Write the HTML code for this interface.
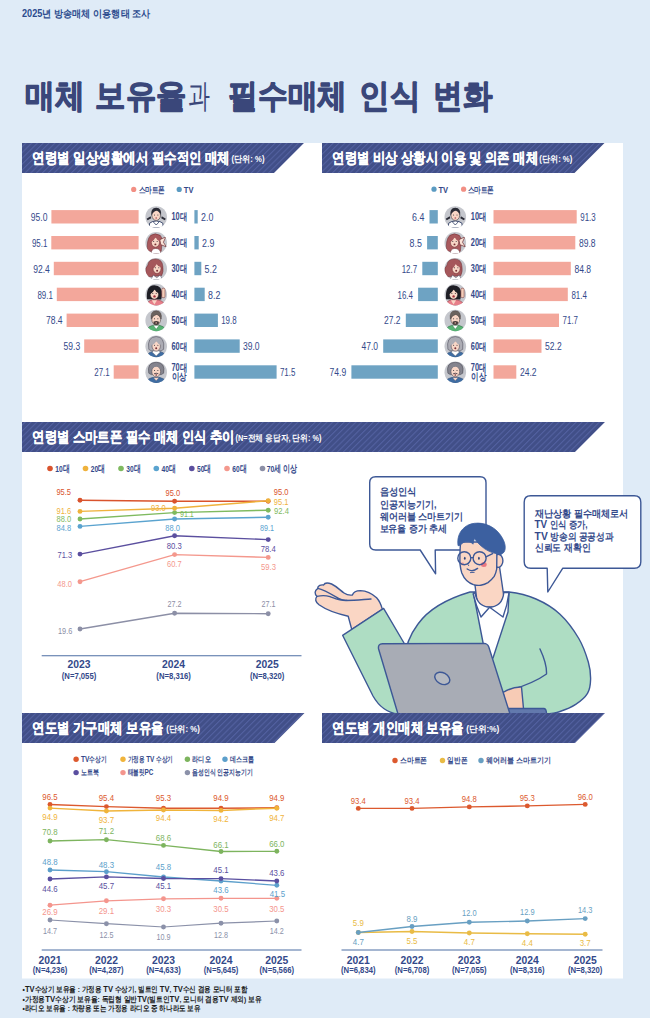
<!DOCTYPE html>
<html lang="ko">
<head>
<meta charset="utf-8">
<title>2025년 방송매체 이용행태 조사</title>
<style>
html,body{margin:0;padding:0;background:#dfebf7;}
body{width:650px;height:1018px;overflow:hidden;font-family:"Liberation Sans",sans-serif;}
svg{display:block;font-family:"Liberation Sans",sans-serif;}
svg text{white-space:pre;}
</style>
</head>
<body>
<svg width="650" height="1018" viewBox="0 0 650 1018">
<defs>
<pattern id="stripe" width="5.8" height="5.8" patternUnits="userSpaceOnUse" patternTransform="skewX(-45)">
<rect width="5.8" height="5.8" fill="#414f88"/>
<rect x="0" y="0" width="1.5" height="5.8" fill="#5361a0"/>
</pattern>
</defs>
<rect x="0" y="0" width="650" height="1018" fill="#dfebf7"/>
<rect x="22" y="143" width="601" height="835.5" fill="#ffffff"/>
<text x="22.0" y="17.1" font-size="10" fill="#2c4b8e" font-weight="bold" text-anchor="start" textLength="128.5" lengthAdjust="spacingAndGlyphs">2025년 방송매체 이용행태 조사</text>
<text x="25.2" y="106.9" font-size="33" fill="#3a477a" font-weight="900" text-anchor="start" textLength="59.5" lengthAdjust="spacingAndGlyphs" stroke="#3a477a" stroke-width="1.2" stroke-linejoin="round">매체</text>
<text x="95.4" y="106.9" font-size="33" fill="#3a477a" font-weight="900" text-anchor="start" textLength="91.0" lengthAdjust="spacingAndGlyphs" stroke="#3a477a" stroke-width="1.2" stroke-linejoin="round">보유율</text>
<text x="187.6" y="106.9" font-size="33" fill="#3a477a" font-weight="400" text-anchor="start" textLength="22.0" lengthAdjust="spacingAndGlyphs" stroke="#3a477a" stroke-width="0" stroke-linejoin="round">과</text>
<text x="228.2" y="106.9" font-size="33" fill="#3a477a" font-weight="900" text-anchor="start" textLength="119.0" lengthAdjust="spacingAndGlyphs" stroke="#3a477a" stroke-width="1.2" stroke-linejoin="round">필수매체</text>
<text x="359.4" y="106.9" font-size="33" fill="#3a477a" font-weight="900" text-anchor="start" textLength="61.0" lengthAdjust="spacingAndGlyphs" stroke="#3a477a" stroke-width="1.2" stroke-linejoin="round">인식</text>
<text x="433.0" y="106.9" font-size="33" fill="#3a477a" font-weight="900" text-anchor="start" textLength="59.0" lengthAdjust="spacingAndGlyphs" stroke="#3a477a" stroke-width="1.2" stroke-linejoin="round">변화</text>
<path d="M22,143 L304,143 L274,173 L22,173 Z" fill="url(#stripe)"/>
<text x="32.4" y="162.9" font-size="14.8" fill="#ffffff" font-weight="bold" text-anchor="start" textLength="197.5" lengthAdjust="spacingAndGlyphs" stroke="#ffffff" stroke-width="0.3">연령별 일상생활에서 필수적인 매체</text>
<text x="231.5" y="161.6" font-size="8.5" fill="#ffffff" font-weight="bold" text-anchor="start" textLength="33.0" lengthAdjust="spacingAndGlyphs">(단위: %)</text>
<path d="M322,143 L604.5,143 L574.5,173 L322,173 Z" fill="url(#stripe)"/>
<text x="332.4" y="162.9" font-size="14.8" fill="#ffffff" font-weight="bold" text-anchor="start" textLength="205.5" lengthAdjust="spacingAndGlyphs" stroke="#ffffff" stroke-width="0.3">연령별 비상 상황시 이용 및 의존 매체</text>
<text x="539.3" y="161.6" font-size="8.5" fill="#ffffff" font-weight="bold" text-anchor="start" textLength="33.0" lengthAdjust="spacingAndGlyphs">(단위: %)</text>
<path d="M22,422 L605,422 L575,452 L22,452 Z" fill="url(#stripe)"/>
<text x="32.4" y="441.9" font-size="14.8" fill="#ffffff" font-weight="bold" text-anchor="start" textLength="202.0" lengthAdjust="spacingAndGlyphs" stroke="#ffffff" stroke-width="0.3">연령별 스마트폰 필수 매체 인식 추이</text>
<text x="235.5" y="440.6" font-size="8.5" fill="#ffffff" font-weight="bold" text-anchor="start" textLength="86.0" lengthAdjust="spacingAndGlyphs">(N=전체 응답자, 단위: %)</text>
<circle cx="133.7" cy="189.4" r="2.6" fill="#f28f84"/>
<text x="138.6" y="192.6" font-size="9" fill="#33498a" font-weight="bold" text-anchor="start" textLength="26.5" lengthAdjust="spacingAndGlyphs">스마트폰</text>
<circle cx="179.2" cy="189.4" r="2.6" fill="#5b9bc2"/>
<text x="183.8" y="192.8" font-size="9.5" fill="#33498a" font-weight="bold" text-anchor="start" textLength="9.6" lengthAdjust="spacingAndGlyphs">TV</text>
<circle cx="434" cy="189.2" r="2.6" fill="#5b9bc2"/>
<text x="438.5" y="192.8" font-size="9.5" fill="#33498a" font-weight="bold" text-anchor="start" textLength="9.6" lengthAdjust="spacingAndGlyphs">TV</text>
<circle cx="463.6" cy="189.2" r="2.6" fill="#f28f84"/>
<text x="467.6" y="192.6" font-size="9" fill="#33498a" font-weight="bold" text-anchor="start" textLength="26.5" lengthAdjust="spacingAndGlyphs">스마트폰</text>
<rect x="51.4" y="210.1" width="87.2" height="13.4" fill="#f3a79b"/>
<text x="47.4" y="220.9" font-size="10" fill="#33498a" font-weight="normal" text-anchor="end" textLength="16.6" lengthAdjust="spacingAndGlyphs">95.0</text>
<g><clipPath id="avL10"><circle cx="156.2" cy="217.0" r="10.8"/></clipPath>
<circle cx="156.2" cy="217.0" r="10.8" fill="#c5c7cd"/>
<g clip-path="url(#avL10)"><g transform="translate(156.2 217.0)">
<path d="M-5.6,-0.8 L-9.6,1.8 L-8.6,3.2 L-5,1.2 Z M5.6,-0.8 L9.6,1.8 L8.6,3.2 L5,1.2 Z" fill="#2b2c36"/>
<path d="M-7,11 L-6.6,6.2 Q-4,4 0,4 Q4,4 6.6,6.2 L7,11 Z" fill="#ffffff" stroke="#2f3d63" stroke-width="0.9" stroke-linejoin="round"/>
<path d="M-3.2,4.6 L0,8 L3.2,4.6" fill="none" stroke="#2f3d63" stroke-width="0.8" stroke-linejoin="round"/>
<ellipse cx="0" cy="-1.6" rx="4.3" ry="5" fill="#f8d6c6" stroke="#2b2c36" stroke-width="0.55"/>
<path d="M-4.9,-1 Q-6,-9 0,-9.2 Q6,-9 4.9,-1 Q4,-5 0.5,-6.4 Q-3.6,-5 -4.9,-1 Z" fill="#2b2c36"/>
<circle cx="-1.7" cy="-2.0" r="0.5" fill="#25252e"/><circle cx="1.7" cy="-2.0" r="0.5" fill="#25252e"/>
<ellipse cx="0" cy="1.0000000000000002" rx="0.9" ry="0.7" fill="#b0545c"/>
</g></g></g>
<text x="179.3" y="220.4" font-size="10" fill="#33498a" font-weight="bold" text-anchor="middle" textLength="15.6" lengthAdjust="spacingAndGlyphs">10대</text>
<rect x="194.4" y="210.1" width="3.3" height="13.4" fill="#6ea3c3"/>
<text x="201.0" y="220.9" font-size="10" fill="#33498a" font-weight="normal" text-anchor="start" textLength="12.3" lengthAdjust="spacingAndGlyphs">2.0</text>
<rect x="429.5" y="210.1" width="8.3" height="13.4" fill="#6ea3c3"/>
<text x="424.3" y="220.9" font-size="10" fill="#33498a" font-weight="normal" text-anchor="end" textLength="12.3" lengthAdjust="spacingAndGlyphs">6.4</text>
<g><clipPath id="avR10"><circle cx="455.3" cy="217.0" r="10.8"/></clipPath>
<circle cx="455.3" cy="217.0" r="10.8" fill="#c5c7cd"/>
<g clip-path="url(#avR10)"><g transform="translate(455.3 217.0)">
<path d="M-5.6,-0.8 L-9.6,1.8 L-8.6,3.2 L-5,1.2 Z M5.6,-0.8 L9.6,1.8 L8.6,3.2 L5,1.2 Z" fill="#2b2c36"/>
<path d="M-7,11 L-6.6,6.2 Q-4,4 0,4 Q4,4 6.6,6.2 L7,11 Z" fill="#ffffff" stroke="#2f3d63" stroke-width="0.9" stroke-linejoin="round"/>
<path d="M-3.2,4.6 L0,8 L3.2,4.6" fill="none" stroke="#2f3d63" stroke-width="0.8" stroke-linejoin="round"/>
<ellipse cx="0" cy="-1.6" rx="4.3" ry="5" fill="#f8d6c6" stroke="#2b2c36" stroke-width="0.55"/>
<path d="M-4.9,-1 Q-6,-9 0,-9.2 Q6,-9 4.9,-1 Q4,-5 0.5,-6.4 Q-3.6,-5 -4.9,-1 Z" fill="#2b2c36"/>
<circle cx="-1.7" cy="-2.0" r="0.5" fill="#25252e"/><circle cx="1.7" cy="-2.0" r="0.5" fill="#25252e"/>
<ellipse cx="0" cy="1.0000000000000002" rx="0.9" ry="0.7" fill="#b0545c"/>
</g></g></g>
<text x="478.6" y="220.4" font-size="10" fill="#33498a" font-weight="bold" text-anchor="middle" textLength="15.6" lengthAdjust="spacingAndGlyphs">10대</text>
<rect x="493.5" y="210.1" width="83.2" height="13.4" fill="#f3a79b"/>
<text x="580.3" y="220.9" font-size="10" fill="#33498a" font-weight="normal" text-anchor="start" textLength="15.4" lengthAdjust="spacingAndGlyphs">91.3</text>
<rect x="51.3" y="236.0" width="87.3" height="13.4" fill="#f3a79b"/>
<text x="47.3" y="246.7" font-size="10" fill="#33498a" font-weight="normal" text-anchor="end" textLength="15.4" lengthAdjust="spacingAndGlyphs">95.1</text>
<g><clipPath id="avL20"><circle cx="156.2" cy="242.87" r="10.8"/></clipPath>
<circle cx="156.2" cy="242.87" r="10.8" fill="#c5c7cd"/>
<g clip-path="url(#avL20)"><g transform="translate(156.2 242.87)">
<path d="M-8.6,8.5 Q-10,-3 -5.5,-7.5 Q-1,-10.5 4,-7.5 Q7,-4 5.6,3 L5,8.5 Z" fill="#a9595d" stroke="#6e2f35" stroke-width="0.55" stroke-linejoin="round"/>
<path d="M3.6,-3.2 L9.6,-6 L7.2,-0.6 L10.2,4 L4.6,1.8 Z" fill="#fbe3d8" stroke="#6e2f35" stroke-width="0.7" stroke-linejoin="round"/>
<path d="M-5,11 Q-5,5.6 -0.5,5.6 Q4.5,5.6 4.5,11 Z" fill="#ffffff" stroke="#6e2f35" stroke-width="0.55" stroke-linejoin="round"/>
<ellipse cx="-0.8" cy="-0.6" rx="4.1" ry="4.9" fill="#f8d6c6" stroke="#6e2f35" stroke-width="0.55"/>
<path d="M-5.2,-0.4 Q-5.6,-8 -0.5,-8 Q4.6,-7.6 3.8,-1.6 Q0.6,-2.6 -0.6,-5.6 Q-2.4,-2 -5.2,-0.4 Z" fill="#a9595d"/>
<circle cx="-2.5" cy="-1.4" r="0.5" fill="#25252e"/><circle cx="0.8999999999999999" cy="-1.4" r="0.5" fill="#25252e"/>
<ellipse cx="-0.8" cy="1.6" rx="1.0" ry="0.9" fill="#7a3036"/>
</g></g></g>
<text x="179.3" y="246.2" font-size="10" fill="#33498a" font-weight="bold" text-anchor="middle" textLength="15.6" lengthAdjust="spacingAndGlyphs">20대</text>
<rect x="194.4" y="236.0" width="4.3" height="13.4" fill="#6ea3c3"/>
<text x="202.0" y="246.7" font-size="10" fill="#33498a" font-weight="normal" text-anchor="start" textLength="12.3" lengthAdjust="spacingAndGlyphs">2.9</text>
<rect x="427.1" y="236.0" width="10.7" height="13.4" fill="#6ea3c3"/>
<text x="421.9" y="246.7" font-size="10" fill="#33498a" font-weight="normal" text-anchor="end" textLength="12.3" lengthAdjust="spacingAndGlyphs">8.5</text>
<g><clipPath id="avR20"><circle cx="455.3" cy="242.87" r="10.8"/></clipPath>
<circle cx="455.3" cy="242.87" r="10.8" fill="#c5c7cd"/>
<g clip-path="url(#avR20)"><g transform="translate(455.3 242.87)">
<path d="M-8.6,8.5 Q-10,-3 -5.5,-7.5 Q-1,-10.5 4,-7.5 Q7,-4 5.6,3 L5,8.5 Z" fill="#a9595d" stroke="#6e2f35" stroke-width="0.55" stroke-linejoin="round"/>
<path d="M3.6,-3.2 L9.6,-6 L7.2,-0.6 L10.2,4 L4.6,1.8 Z" fill="#fbe3d8" stroke="#6e2f35" stroke-width="0.7" stroke-linejoin="round"/>
<path d="M-5,11 Q-5,5.6 -0.5,5.6 Q4.5,5.6 4.5,11 Z" fill="#ffffff" stroke="#6e2f35" stroke-width="0.55" stroke-linejoin="round"/>
<ellipse cx="-0.8" cy="-0.6" rx="4.1" ry="4.9" fill="#f8d6c6" stroke="#6e2f35" stroke-width="0.55"/>
<path d="M-5.2,-0.4 Q-5.6,-8 -0.5,-8 Q4.6,-7.6 3.8,-1.6 Q0.6,-2.6 -0.6,-5.6 Q-2.4,-2 -5.2,-0.4 Z" fill="#a9595d"/>
<circle cx="-2.5" cy="-1.4" r="0.5" fill="#25252e"/><circle cx="0.8999999999999999" cy="-1.4" r="0.5" fill="#25252e"/>
<ellipse cx="-0.8" cy="1.6" rx="1.0" ry="0.9" fill="#7a3036"/>
</g></g></g>
<text x="478.6" y="246.2" font-size="10" fill="#33498a" font-weight="bold" text-anchor="middle" textLength="15.6" lengthAdjust="spacingAndGlyphs">20대</text>
<rect x="493.5" y="236.0" width="81.8" height="13.4" fill="#f3a79b"/>
<text x="578.9" y="246.7" font-size="10" fill="#33498a" font-weight="normal" text-anchor="start" textLength="16.6" lengthAdjust="spacingAndGlyphs">89.8</text>
<rect x="53.8" y="261.8" width="84.8" height="13.4" fill="#f3a79b"/>
<text x="49.8" y="272.6" font-size="10" fill="#33498a" font-weight="normal" text-anchor="end" textLength="16.6" lengthAdjust="spacingAndGlyphs">92.4</text>
<g><clipPath id="avL30"><circle cx="156.2" cy="268.74" r="10.8"/></clipPath>
<circle cx="156.2" cy="268.74" r="10.8" fill="#c5c7cd"/>
<g clip-path="url(#avL30)"><g transform="translate(156.2 268.74)">
<path d="M-10.4,5 Q-11.4,-1 -8.4,-3.6 Q-7.6,-9.6 -1,-9.8 Q6,-9.8 6.6,-2.6 Q7.6,3 5.4,7 L-7.6,8 Z" fill="#a5575b" stroke="#6e2f35" stroke-width="0.55" stroke-linejoin="round"/>
<path d="M-5.6,11 L-2.8,6.4 L0.6,9 L3.8,6.4 L6.6,11 Z" fill="#ffffff" stroke="#55556a" stroke-width="0.55" stroke-linejoin="round"/>
<ellipse cx="0.8" cy="-0.2" rx="4" ry="4.9" fill="#f8d6c6" stroke="#6e2f35" stroke-width="0.55"/>
<path d="M-3.6,0.4 Q-4.4,-7.4 0.8,-7.4 Q5.6,-7 5,-1.6 Q1.6,-2 0.4,-4.8 Q-1,-1.4 -3.6,0.4 Z" fill="#a5575b"/>
<circle cx="-0.7999999999999999" cy="-1.0" r="0.5" fill="#25252e"/><circle cx="2.6" cy="-1.0" r="0.5" fill="#25252e"/>
<ellipse cx="0.9" cy="2.0" rx="1.0" ry="0.9" fill="#7a3036"/>
</g></g></g>
<text x="179.3" y="272.1" font-size="10" fill="#33498a" font-weight="bold" text-anchor="middle" textLength="15.6" lengthAdjust="spacingAndGlyphs">30대</text>
<rect x="194.4" y="261.8" width="6.9" height="13.4" fill="#6ea3c3"/>
<text x="204.6" y="272.6" font-size="10" fill="#33498a" font-weight="normal" text-anchor="start" textLength="12.3" lengthAdjust="spacingAndGlyphs">5.2</text>
<rect x="422.3" y="261.8" width="15.5" height="13.4" fill="#6ea3c3"/>
<text x="417.1" y="272.6" font-size="10" fill="#33498a" font-weight="normal" text-anchor="end" textLength="15.4" lengthAdjust="spacingAndGlyphs">12.7</text>
<g><clipPath id="avR30"><circle cx="455.3" cy="268.74" r="10.8"/></clipPath>
<circle cx="455.3" cy="268.74" r="10.8" fill="#c5c7cd"/>
<g clip-path="url(#avR30)"><g transform="translate(455.3 268.74)">
<path d="M-10.4,5 Q-11.4,-1 -8.4,-3.6 Q-7.6,-9.6 -1,-9.8 Q6,-9.8 6.6,-2.6 Q7.6,3 5.4,7 L-7.6,8 Z" fill="#a5575b" stroke="#6e2f35" stroke-width="0.55" stroke-linejoin="round"/>
<path d="M-5.6,11 L-2.8,6.4 L0.6,9 L3.8,6.4 L6.6,11 Z" fill="#ffffff" stroke="#55556a" stroke-width="0.55" stroke-linejoin="round"/>
<ellipse cx="0.8" cy="-0.2" rx="4" ry="4.9" fill="#f8d6c6" stroke="#6e2f35" stroke-width="0.55"/>
<path d="M-3.6,0.4 Q-4.4,-7.4 0.8,-7.4 Q5.6,-7 5,-1.6 Q1.6,-2 0.4,-4.8 Q-1,-1.4 -3.6,0.4 Z" fill="#a5575b"/>
<circle cx="-0.7999999999999999" cy="-1.0" r="0.5" fill="#25252e"/><circle cx="2.6" cy="-1.0" r="0.5" fill="#25252e"/>
<ellipse cx="0.9" cy="2.0" rx="1.0" ry="0.9" fill="#7a3036"/>
</g></g></g>
<text x="478.6" y="272.1" font-size="10" fill="#33498a" font-weight="bold" text-anchor="middle" textLength="15.6" lengthAdjust="spacingAndGlyphs">30대</text>
<rect x="493.5" y="261.8" width="77.3" height="13.4" fill="#f3a79b"/>
<text x="574.4" y="272.6" font-size="10" fill="#33498a" font-weight="normal" text-anchor="start" textLength="16.6" lengthAdjust="spacingAndGlyphs">84.8</text>
<rect x="56.8" y="287.7" width="81.8" height="13.4" fill="#f3a79b"/>
<text x="52.8" y="298.5" font-size="10" fill="#33498a" font-weight="normal" text-anchor="end" textLength="15.4" lengthAdjust="spacingAndGlyphs">89.1</text>
<g><clipPath id="avL40"><circle cx="156.2" cy="294.61" r="10.8"/></clipPath>
<circle cx="156.2" cy="294.61" r="10.8" fill="#c5c7cd"/>
<g clip-path="url(#avL40)"><g transform="translate(156.2 294.61)">
<path d="M-9.2,4.6 Q-10.6,-8.8 -2,-9.4 Q6.4,-9.4 5.8,0.6 L5,5 Z" fill="#1e1e25"/>
<rect x="5.6" y="-6.4" width="3.2" height="9.4" rx="1.1" fill="#f3cdb9" stroke="#7a3a40" stroke-width="0.55"/>
<path d="M-10,11 Q-8.6,5 -2,5.2 Q6.4,4.6 9.4,11 Z" fill="#e77f8a" stroke="#8a3a44" stroke-width="0.55" stroke-linejoin="round"/>
<path d="M-4.4,5.6 L-1.8,10 L0.8,5.6 Z" fill="#f8d6c6"/>
<ellipse cx="-1.8" cy="-0.4" rx="4.2" ry="5" fill="#f8d6c6" stroke="#1e1e25" stroke-width="0.55"/>
<path d="M-6.4,0 Q-6.6,-7.8 -1.6,-7.8 Q3.4,-7.6 2.8,-1.4 Q-0.4,-2.2 -1.6,-5 Q-3.4,-1.6 -6.4,0 Z" fill="#1e1e25"/>
<circle cx="-3.4" cy="-1.2000000000000002" r="0.5" fill="#25252e"/><circle cx="0.0" cy="-1.2000000000000002" r="0.5" fill="#25252e"/>
<ellipse cx="-1.7" cy="1.8000000000000003" rx="1.2" ry="1.2" fill="#a02a36"/>
</g></g></g>
<text x="179.3" y="298.0" font-size="10" fill="#33498a" font-weight="bold" text-anchor="middle" textLength="15.6" lengthAdjust="spacingAndGlyphs">40대</text>
<rect x="194.4" y="287.7" width="10.3" height="13.4" fill="#6ea3c3"/>
<text x="208.0" y="298.5" font-size="10" fill="#33498a" font-weight="normal" text-anchor="start" textLength="12.3" lengthAdjust="spacingAndGlyphs">8.2</text>
<rect x="418.1" y="287.7" width="19.7" height="13.4" fill="#6ea3c3"/>
<text x="412.9" y="298.5" font-size="10" fill="#33498a" font-weight="normal" text-anchor="end" textLength="15.4" lengthAdjust="spacingAndGlyphs">16.4</text>
<g><clipPath id="avR40"><circle cx="455.3" cy="294.61" r="10.8"/></clipPath>
<circle cx="455.3" cy="294.61" r="10.8" fill="#c5c7cd"/>
<g clip-path="url(#avR40)"><g transform="translate(455.3 294.61)">
<path d="M-9.2,4.6 Q-10.6,-8.8 -2,-9.4 Q6.4,-9.4 5.8,0.6 L5,5 Z" fill="#1e1e25"/>
<rect x="5.6" y="-6.4" width="3.2" height="9.4" rx="1.1" fill="#f3cdb9" stroke="#7a3a40" stroke-width="0.55"/>
<path d="M-10,11 Q-8.6,5 -2,5.2 Q6.4,4.6 9.4,11 Z" fill="#e77f8a" stroke="#8a3a44" stroke-width="0.55" stroke-linejoin="round"/>
<path d="M-4.4,5.6 L-1.8,10 L0.8,5.6 Z" fill="#f8d6c6"/>
<ellipse cx="-1.8" cy="-0.4" rx="4.2" ry="5" fill="#f8d6c6" stroke="#1e1e25" stroke-width="0.55"/>
<path d="M-6.4,0 Q-6.6,-7.8 -1.6,-7.8 Q3.4,-7.6 2.8,-1.4 Q-0.4,-2.2 -1.6,-5 Q-3.4,-1.6 -6.4,0 Z" fill="#1e1e25"/>
<circle cx="-3.4" cy="-1.2000000000000002" r="0.5" fill="#25252e"/><circle cx="0.0" cy="-1.2000000000000002" r="0.5" fill="#25252e"/>
<ellipse cx="-1.7" cy="1.8000000000000003" rx="1.2" ry="1.2" fill="#a02a36"/>
</g></g></g>
<text x="478.6" y="298.0" font-size="10" fill="#33498a" font-weight="bold" text-anchor="middle" textLength="15.6" lengthAdjust="spacingAndGlyphs">40대</text>
<rect x="493.5" y="287.7" width="74.3" height="13.4" fill="#f3a79b"/>
<text x="571.4" y="298.5" font-size="10" fill="#33498a" font-weight="normal" text-anchor="start" textLength="15.4" lengthAdjust="spacingAndGlyphs">81.4</text>
<rect x="66.6" y="313.6" width="72.0" height="13.4" fill="#f3a79b"/>
<text x="62.6" y="324.3" font-size="10" fill="#33498a" font-weight="normal" text-anchor="end" textLength="16.6" lengthAdjust="spacingAndGlyphs">78.4</text>
<g><clipPath id="avL50"><circle cx="156.2" cy="320.48" r="10.8"/></clipPath>
<circle cx="156.2" cy="320.48" r="10.8" fill="#c5c7cd"/>
<g clip-path="url(#avL50)"><g transform="translate(156.2 320.48)">
<path d="M-10,11 Q-8.6,4.6 0,4.6 Q8.6,4.6 10,11 Z" fill="#58b474" stroke="#2f6e45" stroke-width="0.55" stroke-linejoin="round"/>
<path d="M-3,4.8 L0,8.8 L3,4.8 Z" fill="#ffffff" stroke="#2f6e45" stroke-width="0.4" stroke-linejoin="round"/>
<ellipse cx="0" cy="-1" rx="4.4" ry="5.4" fill="#f8d6c6" stroke="#3e3634" stroke-width="0.55"/>
<path d="M-2.8,1.2 Q0,0 2.8,1.2 L2.4,3.8 Q0,5.4 -2.4,3.8 Z" fill="#463c3a"/>
<path d="M-5,-1.4 Q-6.2,-9.6 0,-9.8 Q6.2,-9.6 5,-1.4 Q3.4,-5.4 0.4,-6 Q-3.4,-5 -5,-1.4 Z" fill="#6b635f" stroke="#3e3634" stroke-width="0.4" stroke-linejoin="round"/>
<circle cx="-1.7" cy="-1.8" r="0.5" fill="#25252e"/><circle cx="1.7" cy="-1.8" r="0.5" fill="#25252e"/>
<ellipse cx="0" cy="2.4" rx="0.9" ry="0.6" fill="#e8b0a4"/>
</g></g></g>
<text x="179.3" y="323.8" font-size="10" fill="#33498a" font-weight="bold" text-anchor="middle" textLength="15.6" lengthAdjust="spacingAndGlyphs">50대</text>
<rect x="194.4" y="313.6" width="23.5" height="13.4" fill="#6ea3c3"/>
<text x="221.2" y="324.3" font-size="10" fill="#33498a" font-weight="normal" text-anchor="start" textLength="15.4" lengthAdjust="spacingAndGlyphs">19.8</text>
<rect x="405.8" y="313.6" width="32.0" height="13.4" fill="#6ea3c3"/>
<text x="400.6" y="324.3" font-size="10" fill="#33498a" font-weight="normal" text-anchor="end" textLength="16.6" lengthAdjust="spacingAndGlyphs">27.2</text>
<g><clipPath id="avR50"><circle cx="455.3" cy="320.48" r="10.8"/></clipPath>
<circle cx="455.3" cy="320.48" r="10.8" fill="#c5c7cd"/>
<g clip-path="url(#avR50)"><g transform="translate(455.3 320.48)">
<path d="M-10,11 Q-8.6,4.6 0,4.6 Q8.6,4.6 10,11 Z" fill="#58b474" stroke="#2f6e45" stroke-width="0.55" stroke-linejoin="round"/>
<path d="M-3,4.8 L0,8.8 L3,4.8 Z" fill="#ffffff" stroke="#2f6e45" stroke-width="0.4" stroke-linejoin="round"/>
<ellipse cx="0" cy="-1" rx="4.4" ry="5.4" fill="#f8d6c6" stroke="#3e3634" stroke-width="0.55"/>
<path d="M-2.8,1.2 Q0,0 2.8,1.2 L2.4,3.8 Q0,5.4 -2.4,3.8 Z" fill="#463c3a"/>
<path d="M-5,-1.4 Q-6.2,-9.6 0,-9.8 Q6.2,-9.6 5,-1.4 Q3.4,-5.4 0.4,-6 Q-3.4,-5 -5,-1.4 Z" fill="#6b635f" stroke="#3e3634" stroke-width="0.4" stroke-linejoin="round"/>
<circle cx="-1.7" cy="-1.8" r="0.5" fill="#25252e"/><circle cx="1.7" cy="-1.8" r="0.5" fill="#25252e"/>
<ellipse cx="0" cy="2.4" rx="0.9" ry="0.6" fill="#e8b0a4"/>
</g></g></g>
<text x="478.6" y="323.8" font-size="10" fill="#33498a" font-weight="bold" text-anchor="middle" textLength="15.6" lengthAdjust="spacingAndGlyphs">50대</text>
<rect x="493.5" y="313.6" width="65.5" height="13.4" fill="#f3a79b"/>
<text x="562.6" y="324.3" font-size="10" fill="#33498a" font-weight="normal" text-anchor="start" textLength="15.4" lengthAdjust="spacingAndGlyphs">71.7</text>
<rect x="84.2" y="339.4" width="54.4" height="13.4" fill="#f3a79b"/>
<text x="80.2" y="350.2" font-size="10" fill="#33498a" font-weight="normal" text-anchor="end" textLength="16.6" lengthAdjust="spacingAndGlyphs">59.3</text>
<g><clipPath id="avL60"><circle cx="156.2" cy="346.34999999999997" r="10.8"/></clipPath>
<circle cx="156.2" cy="346.34999999999997" r="10.8" fill="#c5c7cd"/>
<g clip-path="url(#avL60)"><g transform="translate(156.2 346.34999999999997)">
<path d="M-10,11 Q-8.6,4.8 0,4.8 Q8.6,4.8 10,11 Z" fill="#3f6da2" stroke="#2a4774" stroke-width="0.55" stroke-linejoin="round"/>
<path d="M-4.2,5.6 L0,9.6 L4.2,5.6 L2.6,4.2 L-2.6,4.2 Z" fill="#ffffff" stroke="#4a4a58" stroke-width="0.4" stroke-linejoin="round"/>
<path d="M-7.4,3 Q-9.4,-9.6 0,-9.8 Q9,-9.6 7.4,3 L5,4.4 L-5,4.4 Z" fill="#acacb4" stroke="#4a4a58" stroke-width="0.55" stroke-linejoin="round"/>
<ellipse cx="0" cy="-0.4" rx="4.2" ry="5.2" fill="#f8d6c6" stroke="#4a4a58" stroke-width="0.55"/>
<path d="M-5,-0.8 Q-5.4,-7.6 0,-7.6 Q5.4,-7.4 5,-1.6 Q1.6,-2.2 0.2,-5.2 Q-1.8,-2 -5,-0.8 Z" fill="#acacb4"/>
<circle cx="-1.7" cy="-1.2000000000000002" r="0.5" fill="#25252e"/><circle cx="1.7" cy="-1.2000000000000002" r="0.5" fill="#25252e"/>
<ellipse cx="0" cy="1.8000000000000003" rx="1.0" ry="1.0" fill="#7a3036"/>
</g></g></g>
<text x="179.3" y="349.7" font-size="10" fill="#33498a" font-weight="bold" text-anchor="middle" textLength="15.6" lengthAdjust="spacingAndGlyphs">60대</text>
<rect x="194.4" y="339.4" width="45.3" height="13.4" fill="#6ea3c3"/>
<text x="243.0" y="350.2" font-size="10" fill="#33498a" font-weight="normal" text-anchor="start" textLength="16.6" lengthAdjust="spacingAndGlyphs">39.0</text>
<rect x="383.2" y="339.4" width="54.6" height="13.4" fill="#6ea3c3"/>
<text x="378.0" y="350.2" font-size="10" fill="#33498a" font-weight="normal" text-anchor="end" textLength="16.6" lengthAdjust="spacingAndGlyphs">47.0</text>
<g><clipPath id="avR60"><circle cx="455.3" cy="346.34999999999997" r="10.8"/></clipPath>
<circle cx="455.3" cy="346.34999999999997" r="10.8" fill="#c5c7cd"/>
<g clip-path="url(#avR60)"><g transform="translate(455.3 346.34999999999997)">
<path d="M-10,11 Q-8.6,4.8 0,4.8 Q8.6,4.8 10,11 Z" fill="#3f6da2" stroke="#2a4774" stroke-width="0.55" stroke-linejoin="round"/>
<path d="M-4.2,5.6 L0,9.6 L4.2,5.6 L2.6,4.2 L-2.6,4.2 Z" fill="#ffffff" stroke="#4a4a58" stroke-width="0.4" stroke-linejoin="round"/>
<path d="M-7.4,3 Q-9.4,-9.6 0,-9.8 Q9,-9.6 7.4,3 L5,4.4 L-5,4.4 Z" fill="#acacb4" stroke="#4a4a58" stroke-width="0.55" stroke-linejoin="round"/>
<ellipse cx="0" cy="-0.4" rx="4.2" ry="5.2" fill="#f8d6c6" stroke="#4a4a58" stroke-width="0.55"/>
<path d="M-5,-0.8 Q-5.4,-7.6 0,-7.6 Q5.4,-7.4 5,-1.6 Q1.6,-2.2 0.2,-5.2 Q-1.8,-2 -5,-0.8 Z" fill="#acacb4"/>
<circle cx="-1.7" cy="-1.2000000000000002" r="0.5" fill="#25252e"/><circle cx="1.7" cy="-1.2000000000000002" r="0.5" fill="#25252e"/>
<ellipse cx="0" cy="1.8000000000000003" rx="1.0" ry="1.0" fill="#7a3036"/>
</g></g></g>
<text x="478.6" y="349.7" font-size="10" fill="#33498a" font-weight="bold" text-anchor="middle" textLength="15.6" lengthAdjust="spacingAndGlyphs">60대</text>
<rect x="493.5" y="339.4" width="48.0" height="13.4" fill="#f3a79b"/>
<text x="545.1" y="350.2" font-size="10" fill="#33498a" font-weight="normal" text-anchor="start" textLength="16.6" lengthAdjust="spacingAndGlyphs">52.2</text>
<rect x="113.7" y="365.3" width="24.9" height="13.4" fill="#f3a79b"/>
<text x="109.7" y="376.1" font-size="10" fill="#33498a" font-weight="normal" text-anchor="end" textLength="15.4" lengthAdjust="spacingAndGlyphs">27.1</text>
<g><clipPath id="avL70"><circle cx="156.2" cy="372.21999999999997" r="10.8"/></clipPath>
<circle cx="156.2" cy="372.21999999999997" r="10.8" fill="#c5c7cd"/>
<g clip-path="url(#avL70)"><g transform="translate(156.2 372.21999999999997)">
<path d="M-10.4,11 Q-9,5 0,5 Q9,5 10.4,11 Z" fill="#3f6da2" stroke="#2a4774" stroke-width="0.55" stroke-linejoin="round"/>
<path d="M-3,5.2 L0,8.8 L3,5.2 Z" fill="#f8d6c6" stroke="#2a4774" stroke-width="0.4" stroke-linejoin="round"/>
<path d="M-7.4,1 Q-9.6,-9.6 0,-10 Q9.6,-9.6 7.4,1 L5,2.4 L-5,2.4 Z" fill="#84848e" stroke="#44444f" stroke-width="0.55" stroke-linejoin="round"/>
<ellipse cx="0" cy="-0.8" rx="4.4" ry="5.4" fill="#f8d6c6" stroke="#44444f" stroke-width="0.55"/>
<path d="M-5.2,-2.2 Q-5.2,-8 0,-8 Q5.2,-8 5.2,-2.2 Q3,-5.2 0,-5.6 Q-3,-5.2 -5.2,-2.2 Z" fill="#84848e"/>
<circle cx="-1.7" cy="-1.6" r="0.5" fill="#25252e"/><circle cx="1.7" cy="-1.6" r="0.5" fill="#25252e"/>
<path d="M-2.2,1.6 Q0,0.4 2.2,1.6" stroke="#5b5058" stroke-width="1" fill="none"/>
<ellipse cx="0" cy="2.8" rx="0.9" ry="0.7" fill="#7a3036"/>
</g></g></g>
<text x="179.3" y="371.0" font-size="10" fill="#33498a" font-weight="bold" text-anchor="middle" textLength="15.6" lengthAdjust="spacingAndGlyphs">70대</text>
<text x="179.3" y="380.4" font-size="10" fill="#33498a" font-weight="bold" text-anchor="middle" textLength="15.0" lengthAdjust="spacingAndGlyphs">이상</text>
<rect x="194.4" y="365.3" width="82.2" height="13.4" fill="#6ea3c3"/>
<text x="279.9" y="376.1" font-size="10" fill="#33498a" font-weight="normal" text-anchor="start" textLength="15.4" lengthAdjust="spacingAndGlyphs">71.5</text>
<rect x="351.4" y="365.3" width="86.4" height="13.4" fill="#6ea3c3"/>
<text x="346.2" y="376.1" font-size="10" fill="#33498a" font-weight="normal" text-anchor="end" textLength="16.6" lengthAdjust="spacingAndGlyphs">74.9</text>
<g><clipPath id="avR70"><circle cx="455.3" cy="372.21999999999997" r="10.8"/></clipPath>
<circle cx="455.3" cy="372.21999999999997" r="10.8" fill="#c5c7cd"/>
<g clip-path="url(#avR70)"><g transform="translate(455.3 372.21999999999997)">
<path d="M-10.4,11 Q-9,5 0,5 Q9,5 10.4,11 Z" fill="#3f6da2" stroke="#2a4774" stroke-width="0.55" stroke-linejoin="round"/>
<path d="M-3,5.2 L0,8.8 L3,5.2 Z" fill="#f8d6c6" stroke="#2a4774" stroke-width="0.4" stroke-linejoin="round"/>
<path d="M-7.4,1 Q-9.6,-9.6 0,-10 Q9.6,-9.6 7.4,1 L5,2.4 L-5,2.4 Z" fill="#84848e" stroke="#44444f" stroke-width="0.55" stroke-linejoin="round"/>
<ellipse cx="0" cy="-0.8" rx="4.4" ry="5.4" fill="#f8d6c6" stroke="#44444f" stroke-width="0.55"/>
<path d="M-5.2,-2.2 Q-5.2,-8 0,-8 Q5.2,-8 5.2,-2.2 Q3,-5.2 0,-5.6 Q-3,-5.2 -5.2,-2.2 Z" fill="#84848e"/>
<circle cx="-1.7" cy="-1.6" r="0.5" fill="#25252e"/><circle cx="1.7" cy="-1.6" r="0.5" fill="#25252e"/>
<path d="M-2.2,1.6 Q0,0.4 2.2,1.6" stroke="#5b5058" stroke-width="1" fill="none"/>
<ellipse cx="0" cy="2.8" rx="0.9" ry="0.7" fill="#7a3036"/>
</g></g></g>
<text x="478.6" y="371.0" font-size="10" fill="#33498a" font-weight="bold" text-anchor="middle" textLength="15.6" lengthAdjust="spacingAndGlyphs">70대</text>
<text x="478.6" y="380.4" font-size="10" fill="#33498a" font-weight="bold" text-anchor="middle" textLength="15.0" lengthAdjust="spacingAndGlyphs">이상</text>
<rect x="493.5" y="365.3" width="22.8" height="13.4" fill="#f3a79b"/>
<text x="519.9" y="376.1" font-size="10" fill="#33498a" font-weight="normal" text-anchor="start" textLength="16.6" lengthAdjust="spacingAndGlyphs">24.2</text>
<polyline points="80,500.3 174.6,501.3 268.2,501.3" fill="none" stroke="#d9532d" stroke-width="1.4"/>
<circle cx="80" cy="500.3" r="2.45" fill="#d9532d"/>
<circle cx="174.6" cy="501.3" r="2.45" fill="#d9532d"/>
<circle cx="268.2" cy="501.3" r="2.45" fill="#d9532d"/>
<polyline points="80,519 174.6,512.6 268.2,510.2" fill="none" stroke="#7fba5f" stroke-width="1.4"/>
<circle cx="80" cy="519" r="2.45" fill="#7fba5f"/>
<circle cx="174.6" cy="512.6" r="2.45" fill="#7fba5f"/>
<circle cx="268.2" cy="510.2" r="2.45" fill="#7fba5f"/>
<polyline points="80,526.4 174.6,519 268.2,517.3" fill="none" stroke="#5aa3cf" stroke-width="1.4"/>
<circle cx="80" cy="526.4" r="2.45" fill="#5aa3cf"/>
<circle cx="174.6" cy="519" r="2.45" fill="#5aa3cf"/>
<circle cx="268.2" cy="517.3" r="2.45" fill="#5aa3cf"/>
<polyline points="80,554.1 174.6,535.7 268.2,539.6" fill="none" stroke="#5b4f9f" stroke-width="1.4"/>
<circle cx="80" cy="554.1" r="2.45" fill="#5b4f9f"/>
<circle cx="174.6" cy="535.7" r="2.45" fill="#5b4f9f"/>
<circle cx="268.2" cy="539.6" r="2.45" fill="#5b4f9f"/>
<polyline points="80,581.7 174.6,554.6 268.2,557.4" fill="none" stroke="#f4988d" stroke-width="1.4"/>
<circle cx="80" cy="581.7" r="2.45" fill="#f4988d"/>
<circle cx="174.6" cy="554.6" r="2.45" fill="#f4988d"/>
<circle cx="268.2" cy="557.4" r="2.45" fill="#f4988d"/>
<polyline points="80,629 174.6,613.2 268.2,613.7" fill="none" stroke="#8c8fa6" stroke-width="1.4"/>
<circle cx="80" cy="629" r="2.45" fill="#8c8fa6"/>
<circle cx="174.6" cy="613.2" r="2.45" fill="#8c8fa6"/>
<circle cx="268.2" cy="613.7" r="2.45" fill="#8c8fa6"/>
<polyline points="80,511.4 174.6,508.2 268.2,500.8" fill="none" stroke="#efb23c" stroke-width="1.4"/>
<circle cx="80" cy="511.4" r="2.45" fill="#efb23c"/>
<circle cx="174.6" cy="508.2" r="2.45" fill="#efb23c"/>
<circle cx="268.2" cy="500.8" r="2.45" fill="#efb23c"/>
<circle cx="50" cy="468.5" r="2.8" fill="#d9532d"/>
<text x="55.2" y="471.9" font-size="9.6" fill="#33498a" font-weight="bold" text-anchor="start" textLength="14.3" lengthAdjust="spacingAndGlyphs">10대</text>
<circle cx="85.5" cy="468.5" r="2.8" fill="#efb23c"/>
<text x="90.7" y="471.9" font-size="9.6" fill="#33498a" font-weight="bold" text-anchor="start" textLength="14.3" lengthAdjust="spacingAndGlyphs">20대</text>
<circle cx="121" cy="468.5" r="2.8" fill="#7fba5f"/>
<text x="126.2" y="471.9" font-size="9.6" fill="#33498a" font-weight="bold" text-anchor="start" textLength="14.3" lengthAdjust="spacingAndGlyphs">30대</text>
<circle cx="156.3" cy="468.5" r="2.8" fill="#5aa3cf"/>
<text x="161.5" y="471.9" font-size="9.6" fill="#33498a" font-weight="bold" text-anchor="start" textLength="14.3" lengthAdjust="spacingAndGlyphs">40대</text>
<circle cx="191.8" cy="468.5" r="2.8" fill="#5b4f9f"/>
<text x="197.0" y="471.9" font-size="9.6" fill="#33498a" font-weight="bold" text-anchor="start" textLength="14.3" lengthAdjust="spacingAndGlyphs">50대</text>
<circle cx="227" cy="468.5" r="2.8" fill="#f4988d"/>
<text x="232.2" y="471.9" font-size="9.6" fill="#33498a" font-weight="bold" text-anchor="start" textLength="14.3" lengthAdjust="spacingAndGlyphs">60대</text>
<circle cx="262.5" cy="468.5" r="2.8" fill="#8c8fa6"/>
<text x="266.7" y="471.9" font-size="9.6" fill="#33498a" font-weight="bold" text-anchor="start" textLength="30.5" lengthAdjust="spacingAndGlyphs">70세 이상</text>
<text x="56.4" y="495.3" font-size="9.3" fill="#d9532d" font-weight="normal" text-anchor="start" textLength="14.6" lengthAdjust="spacingAndGlyphs">95.5</text>
<text x="56.5" y="513.7" font-size="9.3" fill="#efb23c" font-weight="normal" text-anchor="start" textLength="14.6" lengthAdjust="spacingAndGlyphs">91.6</text>
<text x="56.5" y="522.3" font-size="9.3" fill="#7fba5f" font-weight="normal" text-anchor="start" textLength="14.6" lengthAdjust="spacingAndGlyphs">88.0</text>
<text x="56.5" y="531.3" font-size="9.3" fill="#5aa3cf" font-weight="normal" text-anchor="start" textLength="14.6" lengthAdjust="spacingAndGlyphs">84.8</text>
<text x="57.5" y="557.9" font-size="9.3" fill="#5b4f9f" font-weight="normal" text-anchor="start" textLength="14.6" lengthAdjust="spacingAndGlyphs">71.3</text>
<text x="57.3" y="587.3" font-size="9.3" fill="#f4988d" font-weight="normal" text-anchor="start" textLength="14.6" lengthAdjust="spacingAndGlyphs">48.0</text>
<text x="58.0" y="634.3" font-size="9.3" fill="#8c8fa6" font-weight="normal" text-anchor="start" textLength="14.3" lengthAdjust="spacingAndGlyphs">19.6</text>
<text x="165.5" y="496.3" font-size="9.3" fill="#d9532d" font-weight="normal" text-anchor="start" textLength="14.6" lengthAdjust="spacingAndGlyphs">95.0</text>
<text x="151.0" y="511.3" font-size="9.3" fill="#efb23c" font-weight="normal" text-anchor="start" textLength="14.6" lengthAdjust="spacingAndGlyphs">93.0</text>
<text x="180.0" y="517.3" font-size="9.3" fill="#7fba5f" font-weight="normal" text-anchor="start" textLength="13.8" lengthAdjust="spacingAndGlyphs">91.1</text>
<text x="165.3" y="531.3" font-size="9.3" fill="#5aa3cf" font-weight="normal" text-anchor="start" textLength="14.6" lengthAdjust="spacingAndGlyphs">88.0</text>
<text x="166.7" y="548.6" font-size="9.3" fill="#5b4f9f" font-weight="normal" text-anchor="start" textLength="15.0" lengthAdjust="spacingAndGlyphs">80.3</text>
<text x="167.0" y="566.8" font-size="9.3" fill="#f4988d" font-weight="normal" text-anchor="start" textLength="14.6" lengthAdjust="spacingAndGlyphs">60.7</text>
<text x="167.5" y="606.7" font-size="9.3" fill="#8c8fa6" font-weight="normal" text-anchor="start" textLength="14.0" lengthAdjust="spacingAndGlyphs">27.2</text>
<text x="273.8" y="495.3" font-size="9.3" fill="#d9532d" font-weight="normal" text-anchor="start" textLength="14.6" lengthAdjust="spacingAndGlyphs">95.0</text>
<text x="273.8" y="505.1" font-size="9.3" fill="#efb23c" font-weight="normal" text-anchor="start" textLength="14.6" lengthAdjust="spacingAndGlyphs">95.1</text>
<text x="274.0" y="514.3" font-size="9.3" fill="#7fba5f" font-weight="normal" text-anchor="start" textLength="15.0" lengthAdjust="spacingAndGlyphs">92.4</text>
<text x="260.0" y="531.3" font-size="9.3" fill="#5aa3cf" font-weight="normal" text-anchor="start" textLength="14.0" lengthAdjust="spacingAndGlyphs">89.1</text>
<text x="260.8" y="551.8" font-size="9.3" fill="#5b4f9f" font-weight="normal" text-anchor="start" textLength="15.0" lengthAdjust="spacingAndGlyphs">78.4</text>
<text x="261.0" y="570.3" font-size="9.3" fill="#f4988d" font-weight="normal" text-anchor="start" textLength="15.0" lengthAdjust="spacingAndGlyphs">59.3</text>
<text x="261.5" y="606.7" font-size="9.3" fill="#8c8fa6" font-weight="normal" text-anchor="start" textLength="14.0" lengthAdjust="spacingAndGlyphs">27.1</text>
<line x1="41.7" y1="655.8" x2="301.5" y2="655.8" stroke="#4d6ea3" stroke-width="1.1"/>
<text x="79.0" y="668.4" font-size="10.8" fill="#33498a" font-weight="bold" text-anchor="middle" textLength="23.0" lengthAdjust="spacingAndGlyphs">2023</text>
<text x="79.0" y="678.7" font-size="8.6" fill="#33498a" font-weight="bold" text-anchor="middle" textLength="34.5" lengthAdjust="spacingAndGlyphs">(N=7,055)</text>
<text x="173.6" y="668.4" font-size="10.8" fill="#33498a" font-weight="bold" text-anchor="middle" textLength="23.0" lengthAdjust="spacingAndGlyphs">2024</text>
<text x="173.6" y="678.7" font-size="8.6" fill="#33498a" font-weight="bold" text-anchor="middle" textLength="34.5" lengthAdjust="spacingAndGlyphs">(N=8,316)</text>
<text x="267.2" y="668.4" font-size="10.8" fill="#33498a" font-weight="bold" text-anchor="middle" textLength="23.0" lengthAdjust="spacingAndGlyphs">2025</text>
<text x="267.2" y="678.7" font-size="8.6" fill="#33498a" font-weight="bold" text-anchor="middle" textLength="34.5" lengthAdjust="spacingAndGlyphs">(N=8,320)</text>
<path d="M375.7,476.7 L480,476.7 Q486,476.7 486,482.7 L486,544 Q486,550 480,550 L435.2,550 L435.6,573.8 L420.2,550 L375.7,550 Q369.7,550 369.7,544 L369.7,482.7 Q369.7,476.7 375.7,476.7 Z" fill="#ffffff" stroke="#3d5896" stroke-width="1.4" stroke-linejoin="round" stroke-linecap="round"/>
<path d="M530.7,495.7 L634.3,495.7 Q640.8,495.7 640.8,502.2 L640.8,561.7 Q640.8,568.2 634.3,568.2 L562.8,568.2 L547.8,592 L547.2,568.2 L530.7,568.2 Q524.2,568.2 524.2,561.7 L524.2,502.2 Q524.2,495.7 530.7,495.7 Z" fill="#ffffff" stroke="#3d5896" stroke-width="1.4" stroke-linejoin="round" stroke-linecap="round"/>
<text x="379.5" y="495.4" font-size="10" fill="#33498a" font-weight="bold" text-anchor="start" textLength="37.0" lengthAdjust="spacingAndGlyphs">음성인식</text>
<text x="379.5" y="507.6" font-size="10" fill="#33498a" font-weight="bold" text-anchor="start" textLength="57.0" lengthAdjust="spacingAndGlyphs">인공지능기기,</text>
<text x="379.5" y="519.8" font-size="10" fill="#33498a" font-weight="bold" text-anchor="start" textLength="84.0" lengthAdjust="spacingAndGlyphs">웨어러블 스마트기기</text>
<text x="379.5" y="531.9" font-size="10" fill="#33498a" font-weight="bold" text-anchor="start" textLength="68.0" lengthAdjust="spacingAndGlyphs">보유율 증가 추세</text>
<text x="534.6" y="516.5" font-size="10" fill="#33498a" font-weight="bold" text-anchor="start" textLength="94.0" lengthAdjust="spacingAndGlyphs">재난상황 필수매체로서</text>
<text x="534.6" y="528.1" font-size="10" fill="#33498a" font-weight="bold" text-anchor="start" textLength="53.0" lengthAdjust="spacingAndGlyphs"><tspan font-size="11.8">TV</tspan> 인식 증가,</text>
<text x="534.6" y="539.8" font-size="10" fill="#33498a" font-weight="bold" text-anchor="start" textLength="79.0" lengthAdjust="spacingAndGlyphs"><tspan font-size="11.8">TV</tspan> 방송의 공공성과</text>
<text x="534.6" y="551.3" font-size="10" fill="#33498a" font-weight="bold" text-anchor="start" textLength="56.0" lengthAdjust="spacingAndGlyphs">신뢰도 재확인</text>
<g>
<path d="M351.8,629.6 L348.2,616.2 C338,614 327,610.5 319,604.8 C315.5,602 314.6,599 317,596.4 C314.4,594 314.4,590.6 317.6,588.6 C317.8,585.6 321,584.4 323.6,585 C324.6,582.8 328,582.6 331.6,584 C337,586.6 340.4,590.6 344,593 C346.4,594.6 349.6,595.4 352.4,595 C353.4,592 356.4,590.6 360.4,590.6 C366,590.8 372.6,594 376.6,597.8 C379.6,601 381.2,605 382.4,609.4 Z" fill="#fad6c4" stroke="#3d5896" stroke-width="1.4" stroke-linejoin="round" stroke-linecap="round"/>
<path d="M317.8,588.4 C324,589.6 332,594.6 338.4,598.4 C341,600 344,600.4 347,600.2 M317,596.4 C321,595.4 326,595.4 330,596.6 C335,598.4 339,600.2 343,600.4 C352,600.8 362,599.6 371,599" fill="none" stroke="#3d5896" stroke-width="1.4" stroke-linejoin="round" stroke-linecap="round"/>
<path d="M342.6,635.3 L383.6,608.4 L404,643 L432,714 L398,714 Q382,712 373,696 Z" fill="#aeddc3" stroke="#3d5896" stroke-width="1.4" stroke-linejoin="round" stroke-linecap="round"/>
<path d="M404,714 L404,660 Q406,640 418,624 Q433,603 470,592 L509,592 C520.0,593.2 527.5,595.3 536.0,599.0 C544.5,602.7 552.9,607.6 560.0,614.2 C567.1,620.8 574.1,630.5 578.8,638.5 C583.5,646.5 586.3,655.2 588.3,662.0 C590.3,668.8 590.7,674.1 590.6,679.3 C590.5,684.5 590.0,689.2 587.5,693.4 C585.0,697.6 580.3,701.4 575.7,704.4 C571.1,707.4 565.1,709.8 560.0,711.5 C554.9,713.2 550.0,713.9 545.0,714.5 L545,715 Z" fill="#aeddc3" stroke="#3d5896" stroke-width="1.4" stroke-linejoin="round" stroke-linecap="round"/>
<path d="M473.4,593 L509,592.5 L508,612 L493,658 L486,658 Z" fill="#ffffff" stroke="#3d5896" stroke-width="1.4" stroke-linejoin="round" stroke-linecap="round"/>
<path d="M474.6,582 L476.6,598 Q478,607 490,607.2 Q502,607 503.8,596 L499.4,566 Z" fill="#fad6c4" stroke="#3d5896" stroke-width="1.4" stroke-linejoin="round" stroke-linecap="round"/>
<path d="M475,592.5 Q477,606.5 489.6,607.2 L481,617 Q476,606 473.2,594 Z" fill="#ffffff" stroke="#3d5896" stroke-width="1.4" stroke-linejoin="round" stroke-linecap="round"/>
<path d="M503.8,592.5 Q502.5,606.5 489.6,607.2 L503,617 Q507.5,605 509,592.5 Z" fill="#ffffff" stroke="#3d5896" stroke-width="1.4" stroke-linejoin="round" stroke-linecap="round"/>
<ellipse cx="498.2" cy="560.8" rx="4.7" ry="6.6" fill="#fad6c4" stroke="#3d5896" stroke-width="1.4" stroke-linejoin="round" stroke-linecap="round"/>
<path d="M460.6,542 Q459.6,555 460,564.2 Q460.6,569.5 461.8,573 Q463.6,577.6 466.6,580.4 Q469.6,583.2 473.4,584.6 Q477,585.8 480.8,585.2 Q484.6,584.6 488,582.6 Q491.6,580 494.2,576.4 Q496,573 496.7,569 L497,542 Z" fill="#fad6c4" stroke="#3d5896" stroke-width="1.4" stroke-linejoin="round" stroke-linecap="round"/>
<ellipse cx="483.8" cy="564.6" rx="2.9" ry="2.5" fill="#ea7780"/>
<ellipse cx="462.4" cy="563.8" rx="1.8" ry="1.6" fill="#f0a3a0"/>
<path d="M458,545.6 C456.8,536 460.6,529.4 467.4,525.4 C475.6,521.2 488.4,522.6 497,531 C503.6,537.6 507.4,547 504,552.2 L501,554.6 C495,553.6 489.4,552.2 484.4,548.6 C479.6,545 476.4,541.4 474.4,538.4 L473,544.2 C470.6,541 466.4,540.6 463,542.8 C461,544.2 459.6,546.4 458,545.6 Z" fill="#3c60a0" stroke="#3c60a0" stroke-width="0.8" stroke-linejoin="round"/>
<circle cx="464.3" cy="558.2" r="6.5" fill="none" stroke="#3d5896" stroke-width="1.4" stroke-linejoin="round" stroke-linecap="round"/><circle cx="479.6" cy="558.2" r="6.5" fill="none" stroke="#3d5896" stroke-width="1.4" stroke-linejoin="round" stroke-linecap="round"/>
<path d="M470.8,557.6 L473.1,557.6 M486,556.8 L492.6,553.6" fill="none" stroke="#3d5896" stroke-width="1.4" stroke-linejoin="round" stroke-linecap="round"/>
<ellipse cx="464.8" cy="558.2" rx="0.85" ry="1.5" fill="#2f4478"/><ellipse cx="478.9" cy="558.2" rx="0.85" ry="1.5" fill="#2f4478"/>
<path d="M467.2,569 Q472.4,572.6 477.6,568.4" fill="none" stroke="#3d5896" stroke-width="1.4" stroke-linejoin="round" stroke-linecap="round"/>
<path d="M470.4,572.6 L474.2,572.4" fill="none" stroke="#3d5896" stroke-width="0.9" stroke-linecap="round"/>
<path d="M468.6,562.6 Q467,565 468.6,565.8" fill="none" stroke="#3d5896" stroke-width="0.9" stroke-linecap="round"/>
<path d="M540,649 Q547,664 546.5,674 Q533,684 503,692.5" fill="none" stroke="#3d5896" stroke-width="1.4" stroke-linejoin="round" stroke-linecap="round"/>
<path d="M503,692.5 Q513,686.5 521.5,687 L524,714 L508,714 Z" fill="#f7cbb5" stroke="#3d5896" stroke-width="1.4" stroke-linejoin="round" stroke-linecap="round"/>
<path d="M506,708.5 L544,708.5 Q546.5,709 546.5,714 L506,714 Z" fill="#6279ad" stroke="#3d5896" stroke-width="1.4" stroke-linejoin="round" stroke-linecap="round"/>
<path d="M382.5,643.8 L484,643.4 Q487.5,643.6 488.8,647 L510,714 L398,714 L378.6,649 Q377.6,644 382.5,643.8 Z" fill="#a8acb5" stroke="#3d5896" stroke-width="1.4" stroke-linejoin="round" stroke-linecap="round"/>
<ellipse cx="442.3" cy="678.4" rx="8" ry="5.6" transform="rotate(28 442.3 678.4)" fill="#b5b9c1" stroke="#3d5896" stroke-width="1.4" stroke-linejoin="round" stroke-linecap="round"/>
</g>
<path d="M22,713 L304.5,713 L274.5,743 L22,743 Z" fill="url(#stripe)"/>
<text x="32.4" y="732.9" font-size="14.8" fill="#ffffff" font-weight="bold" text-anchor="start" textLength="131.0" lengthAdjust="spacingAndGlyphs" stroke="#ffffff" stroke-width="0.3">연도별 가구매체 보유율</text>
<text x="166.3" y="731.6" font-size="8.5" fill="#ffffff" font-weight="bold" text-anchor="start" textLength="33.5" lengthAdjust="spacingAndGlyphs">(단위: %)</text>
<path d="M322,713 L605,713 L575,743 L322,743 Z" fill="url(#stripe)"/>
<text x="332.4" y="732.9" font-size="14.8" fill="#ffffff" font-weight="bold" text-anchor="start" textLength="131.5" lengthAdjust="spacingAndGlyphs" stroke="#ffffff" stroke-width="0.3">연도별 개인매체 보유율</text>
<text x="466.3" y="731.6" font-size="8.5" fill="#ffffff" font-weight="bold" text-anchor="start" textLength="33.0" lengthAdjust="spacingAndGlyphs">(단위:%)</text>
<polyline points="50,920 106.4,923.7 163.5,927 221,923.2 276.8,921" fill="none" stroke="#8b91a9" stroke-width="1.2"/>
<circle cx="50" cy="920" r="2.45" fill="#8b91a9"/>
<circle cx="106.4" cy="923.7" r="2.45" fill="#8b91a9"/>
<circle cx="163.5" cy="927" r="2.45" fill="#8b91a9"/>
<circle cx="221" cy="923.2" r="2.45" fill="#8b91a9"/>
<circle cx="276.8" cy="921" r="2.45" fill="#8b91a9"/>
<polyline points="50,905.2 106.4,900.8 163.5,898.8 221,898.3 276.8,898.3" fill="none" stroke="#f4958d" stroke-width="1.25"/>
<circle cx="50" cy="905.2" r="2.45" fill="#f4958d"/>
<circle cx="106.4" cy="900.8" r="2.45" fill="#f4958d"/>
<circle cx="163.5" cy="898.8" r="2.45" fill="#f4958d"/>
<circle cx="221" cy="898.3" r="2.45" fill="#f4958d"/>
<circle cx="276.8" cy="898.3" r="2.45" fill="#f4958d"/>
<polyline points="50,870 106.4,871.7 163.5,877 221,881 276.8,885.3" fill="none" stroke="#5c9fcb" stroke-width="1.3"/>
<circle cx="50" cy="870" r="2.45" fill="#5c9fcb"/>
<circle cx="106.4" cy="871.7" r="2.45" fill="#5c9fcb"/>
<circle cx="163.5" cy="877" r="2.45" fill="#5c9fcb"/>
<circle cx="221" cy="881" r="2.45" fill="#5c9fcb"/>
<circle cx="276.8" cy="885.3" r="2.45" fill="#5c9fcb"/>
<polyline points="50,879 106.4,876.9 163.5,878.5 221,878.6 276.8,881" fill="none" stroke="#5a4fa0" stroke-width="1.4"/>
<circle cx="50" cy="879" r="2.45" fill="#5a4fa0"/>
<circle cx="106.4" cy="876.9" r="2.45" fill="#5a4fa0"/>
<circle cx="163.5" cy="878.5" r="2.45" fill="#5a4fa0"/>
<circle cx="221" cy="878.6" r="2.45" fill="#5a4fa0"/>
<circle cx="276.8" cy="881" r="2.45" fill="#5a4fa0"/>
<polyline points="50,841 106.4,839.7 163.5,845.4 221,851.5 276.8,851.3" fill="none" stroke="#7db45e" stroke-width="1.3"/>
<circle cx="50" cy="841" r="2.45" fill="#7db45e"/>
<circle cx="106.4" cy="839.7" r="2.45" fill="#7db45e"/>
<circle cx="163.5" cy="845.4" r="2.45" fill="#7db45e"/>
<circle cx="221" cy="851.5" r="2.45" fill="#7db45e"/>
<circle cx="276.8" cy="851.3" r="2.45" fill="#7db45e"/>
<polyline points="50,804.5 106.4,806.6 163.5,808.3 221,808.3 276.8,807.8" fill="none" stroke="#dc592e" stroke-width="1.45"/>
<circle cx="50" cy="804.5" r="2.45" fill="#dc592e"/>
<circle cx="106.4" cy="806.6" r="2.45" fill="#dc592e"/>
<circle cx="163.5" cy="808.3" r="2.45" fill="#dc592e"/>
<circle cx="221" cy="808.3" r="2.45" fill="#dc592e"/>
<circle cx="276.8" cy="807.8" r="2.45" fill="#dc592e"/>
<polyline points="50,808.1 106.4,811 163.5,810 221,810.4 276.8,808.2" fill="none" stroke="#f0b43b" stroke-width="1.45"/>
<circle cx="50" cy="808.1" r="2.45" fill="#f0b43b"/>
<circle cx="106.4" cy="811" r="2.45" fill="#f0b43b"/>
<circle cx="163.5" cy="810" r="2.45" fill="#f0b43b"/>
<circle cx="221" cy="810.4" r="2.45" fill="#f0b43b"/>
<circle cx="276.8" cy="808.2" r="2.45" fill="#f0b43b"/>
<circle cx="76.1" cy="759.3" r="2.7" fill="#dc592e"/>
<text x="80.9" y="762.1" font-size="8" fill="#33498a" font-weight="bold" text-anchor="start" textLength="25.5" lengthAdjust="spacingAndGlyphs"><tspan font-size="9.2">TV</tspan>수상기</text>
<circle cx="123" cy="759.3" r="2.7" fill="#f0b43b"/>
<text x="127.8" y="762.1" font-size="8" fill="#33498a" font-weight="bold" text-anchor="start" textLength="45.0" lengthAdjust="spacingAndGlyphs">가정용 <tspan font-size="9.2">TV</tspan> 수상기</text>
<circle cx="187.4" cy="759.3" r="2.7" fill="#7db45e"/>
<text x="192.2" y="762.1" font-size="8" fill="#33498a" font-weight="bold" text-anchor="start" textLength="18.5" lengthAdjust="spacingAndGlyphs">라디오</text>
<circle cx="225" cy="759.3" r="2.7" fill="#5c9fcb"/>
<text x="229.8" y="762.1" font-size="8" fill="#33498a" font-weight="bold" text-anchor="start" textLength="24.0" lengthAdjust="spacingAndGlyphs">데스크톱</text>
<circle cx="76.1" cy="772.6" r="2.7" fill="#5a4fa0"/>
<text x="80.9" y="775.4" font-size="8" fill="#33498a" font-weight="bold" text-anchor="start" textLength="18.0" lengthAdjust="spacingAndGlyphs">노트북</text>
<circle cx="123" cy="772.6" r="2.7" fill="#f4958d"/>
<text x="127.8" y="775.4" font-size="8" fill="#33498a" font-weight="bold" text-anchor="start" textLength="25.5" lengthAdjust="spacingAndGlyphs">태블릿<tspan font-size="9.2">PC</tspan></text>
<circle cx="187.4" cy="772.6" r="2.7" fill="#8b91a9"/>
<text x="192.2" y="775.4" font-size="8" fill="#33498a" font-weight="bold" text-anchor="start" textLength="60.5" lengthAdjust="spacingAndGlyphs">음성인식 인공지능기기</text>
<text x="50.0" y="799.6" font-size="9.5" fill="#dc592e" font-weight="normal" text-anchor="middle" textLength="15.3" lengthAdjust="spacingAndGlyphs">96.5</text>
<text x="106.4" y="801.2" font-size="9.5" fill="#dc592e" font-weight="normal" text-anchor="middle" textLength="15.3" lengthAdjust="spacingAndGlyphs">95.4</text>
<text x="163.5" y="801.2" font-size="9.5" fill="#dc592e" font-weight="normal" text-anchor="middle" textLength="15.3" lengthAdjust="spacingAndGlyphs">95.3</text>
<text x="221.0" y="801.2" font-size="9.5" fill="#dc592e" font-weight="normal" text-anchor="middle" textLength="15.3" lengthAdjust="spacingAndGlyphs">94.9</text>
<text x="276.8" y="801.2" font-size="9.5" fill="#dc592e" font-weight="normal" text-anchor="middle" textLength="15.3" lengthAdjust="spacingAndGlyphs">94.9</text>
<text x="50.0" y="820.4" font-size="9.5" fill="#f0b43b" font-weight="normal" text-anchor="middle" textLength="15.3" lengthAdjust="spacingAndGlyphs">94.9</text>
<text x="106.4" y="823.0" font-size="9.5" fill="#f0b43b" font-weight="normal" text-anchor="middle" textLength="15.3" lengthAdjust="spacingAndGlyphs">93.7</text>
<text x="163.5" y="821.4" font-size="9.5" fill="#f0b43b" font-weight="normal" text-anchor="middle" textLength="15.3" lengthAdjust="spacingAndGlyphs">94.4</text>
<text x="221.0" y="822.4" font-size="9.5" fill="#f0b43b" font-weight="normal" text-anchor="middle" textLength="15.3" lengthAdjust="spacingAndGlyphs">94.2</text>
<text x="276.8" y="821.0" font-size="9.5" fill="#f0b43b" font-weight="normal" text-anchor="middle" textLength="15.3" lengthAdjust="spacingAndGlyphs">94.7</text>
<text x="50.0" y="835.2" font-size="9.5" fill="#7db45e" font-weight="normal" text-anchor="middle" textLength="15.3" lengthAdjust="spacingAndGlyphs">70.8</text>
<text x="106.4" y="834.2" font-size="9.5" fill="#7db45e" font-weight="normal" text-anchor="middle" textLength="15.3" lengthAdjust="spacingAndGlyphs">71.2</text>
<text x="163.5" y="840.6" font-size="9.5" fill="#7db45e" font-weight="normal" text-anchor="middle" textLength="15.3" lengthAdjust="spacingAndGlyphs">68.6</text>
<text x="221.0" y="847.5" font-size="9.5" fill="#7db45e" font-weight="normal" text-anchor="middle" textLength="15.3" lengthAdjust="spacingAndGlyphs">66.1</text>
<text x="276.8" y="846.8" font-size="9.5" fill="#7db45e" font-weight="normal" text-anchor="middle" textLength="15.3" lengthAdjust="spacingAndGlyphs">66.0</text>
<text x="50.0" y="865.2" font-size="9.5" fill="#5c9fcb" font-weight="normal" text-anchor="middle" textLength="15.3" lengthAdjust="spacingAndGlyphs">48.8</text>
<text x="106.4" y="867.7" font-size="9.5" fill="#5c9fcb" font-weight="normal" text-anchor="middle" textLength="15.3" lengthAdjust="spacingAndGlyphs">48.3</text>
<text x="163.5" y="870.2" font-size="9.5" fill="#5c9fcb" font-weight="normal" text-anchor="middle" textLength="15.3" lengthAdjust="spacingAndGlyphs">45.8</text>
<text x="221.0" y="892.9" font-size="9.5" fill="#5c9fcb" font-weight="normal" text-anchor="middle" textLength="15.3" lengthAdjust="spacingAndGlyphs">43.6</text>
<text x="277.4" y="896.6" font-size="9.5" fill="#5c9fcb" font-weight="normal" text-anchor="middle" textLength="15.3" lengthAdjust="spacingAndGlyphs">41.5</text>
<text x="50.0" y="892.4" font-size="9.5" fill="#5a4fa0" font-weight="normal" text-anchor="middle" textLength="15.3" lengthAdjust="spacingAndGlyphs">44.6</text>
<text x="106.4" y="889.4" font-size="9.5" fill="#5a4fa0" font-weight="normal" text-anchor="middle" textLength="15.3" lengthAdjust="spacingAndGlyphs">45.7</text>
<text x="163.5" y="889.4" font-size="9.5" fill="#5a4fa0" font-weight="normal" text-anchor="middle" textLength="15.3" lengthAdjust="spacingAndGlyphs">45.1</text>
<text x="221.0" y="873.4" font-size="9.5" fill="#5a4fa0" font-weight="normal" text-anchor="middle" textLength="15.3" lengthAdjust="spacingAndGlyphs">45.1</text>
<text x="276.8" y="875.9" font-size="9.5" fill="#5a4fa0" font-weight="normal" text-anchor="middle" textLength="15.3" lengthAdjust="spacingAndGlyphs">43.6</text>
<text x="50.0" y="915.1" font-size="9.5" fill="#f4958d" font-weight="normal" text-anchor="middle" textLength="15.3" lengthAdjust="spacingAndGlyphs">26.9</text>
<text x="106.4" y="913.7" font-size="9.5" fill="#f4958d" font-weight="normal" text-anchor="middle" textLength="15.3" lengthAdjust="spacingAndGlyphs">29.1</text>
<text x="163.5" y="911.9" font-size="9.5" fill="#f4958d" font-weight="normal" text-anchor="middle" textLength="15.3" lengthAdjust="spacingAndGlyphs">30.3</text>
<text x="221.0" y="911.9" font-size="9.5" fill="#f4958d" font-weight="normal" text-anchor="middle" textLength="15.3" lengthAdjust="spacingAndGlyphs">30.5</text>
<text x="276.8" y="911.9" font-size="9.5" fill="#f4958d" font-weight="normal" text-anchor="middle" textLength="15.3" lengthAdjust="spacingAndGlyphs">30.5</text>
<text x="50.0" y="934.0" font-size="9.5" fill="#8b91a9" font-weight="normal" text-anchor="middle" textLength="14.0" lengthAdjust="spacingAndGlyphs">14.7</text>
<text x="106.4" y="938.2" font-size="9.5" fill="#8b91a9" font-weight="normal" text-anchor="middle" textLength="14.0" lengthAdjust="spacingAndGlyphs">12.5</text>
<text x="163.5" y="940.4" font-size="9.5" fill="#8b91a9" font-weight="normal" text-anchor="middle" textLength="14.0" lengthAdjust="spacingAndGlyphs">10.9</text>
<text x="221.0" y="937.7" font-size="9.5" fill="#8b91a9" font-weight="normal" text-anchor="middle" textLength="14.0" lengthAdjust="spacingAndGlyphs">12.8</text>
<text x="276.8" y="934.0" font-size="9.5" fill="#8b91a9" font-weight="normal" text-anchor="middle" textLength="14.0" lengthAdjust="spacingAndGlyphs">14.2</text>
<line x1="41.7" y1="950" x2="301.5" y2="950" stroke="#4d6ea3" stroke-width="1.1"/>
<text x="50.0" y="963.6" font-size="10.8" fill="#33498a" font-weight="bold" text-anchor="middle" textLength="23.0" lengthAdjust="spacingAndGlyphs">2021</text>
<text x="50.0" y="973.1" font-size="8.6" fill="#33498a" font-weight="bold" text-anchor="middle" textLength="34.5" lengthAdjust="spacingAndGlyphs">(N=4,236)</text>
<text x="106.4" y="963.6" font-size="10.8" fill="#33498a" font-weight="bold" text-anchor="middle" textLength="23.0" lengthAdjust="spacingAndGlyphs">2022</text>
<text x="106.4" y="973.1" font-size="8.6" fill="#33498a" font-weight="bold" text-anchor="middle" textLength="34.5" lengthAdjust="spacingAndGlyphs">(N=4,287)</text>
<text x="163.5" y="963.6" font-size="10.8" fill="#33498a" font-weight="bold" text-anchor="middle" textLength="23.0" lengthAdjust="spacingAndGlyphs">2023</text>
<text x="163.5" y="973.1" font-size="8.6" fill="#33498a" font-weight="bold" text-anchor="middle" textLength="34.5" lengthAdjust="spacingAndGlyphs">(N=4,633)</text>
<text x="221.0" y="963.6" font-size="10.8" fill="#33498a" font-weight="bold" text-anchor="middle" textLength="23.0" lengthAdjust="spacingAndGlyphs">2024</text>
<text x="221.0" y="973.1" font-size="8.6" fill="#33498a" font-weight="bold" text-anchor="middle" textLength="34.5" lengthAdjust="spacingAndGlyphs">(N=5,645)</text>
<text x="276.8" y="963.6" font-size="10.8" fill="#33498a" font-weight="bold" text-anchor="middle" textLength="23.0" lengthAdjust="spacingAndGlyphs">2025</text>
<text x="276.8" y="973.1" font-size="8.6" fill="#33498a" font-weight="bold" text-anchor="middle" textLength="34.5" lengthAdjust="spacingAndGlyphs">(N=5,566)</text>
<polyline points="358.3,932.5 412,931.5 469.3,933 527.3,933.8 585.2,934.3" fill="none" stroke="#e9bb45" stroke-width="1.4"/>
<circle cx="358.3" cy="932.5" r="2.45" fill="#e9bb45"/>
<circle cx="412" cy="931.5" r="2.45" fill="#e9bb45"/>
<circle cx="469.3" cy="933" r="2.45" fill="#e9bb45"/>
<circle cx="527.3" cy="933.8" r="2.45" fill="#e9bb45"/>
<circle cx="585.2" cy="934.3" r="2.45" fill="#e9bb45"/>
<polyline points="358.3,932.5 412,926.5 469.3,922.3 527.3,921 585.2,918.6" fill="none" stroke="#689fc2" stroke-width="1.4"/>
<circle cx="358.3" cy="932.5" r="2.45" fill="#689fc2"/>
<circle cx="412" cy="926.5" r="2.45" fill="#689fc2"/>
<circle cx="469.3" cy="922.3" r="2.45" fill="#689fc2"/>
<circle cx="527.3" cy="921" r="2.45" fill="#689fc2"/>
<circle cx="585.2" cy="918.6" r="2.45" fill="#689fc2"/>
<polyline points="358.3,808.4 412,808.4 469.3,806.9 527.3,805.9 585.2,804.4" fill="none" stroke="#dc592e" stroke-width="1.4"/>
<circle cx="358.3" cy="808.4" r="2.45" fill="#dc592e"/>
<circle cx="412" cy="808.4" r="2.45" fill="#dc592e"/>
<circle cx="469.3" cy="806.9" r="2.45" fill="#dc592e"/>
<circle cx="527.3" cy="805.9" r="2.45" fill="#dc592e"/>
<circle cx="585.2" cy="804.4" r="2.45" fill="#dc592e"/>
<circle cx="395" cy="760.5" r="2.7" fill="#dc592e"/>
<text x="399.8" y="763.3" font-size="8" fill="#33498a" font-weight="bold" text-anchor="start" textLength="27.5" lengthAdjust="spacingAndGlyphs">스마트폰</text>
<circle cx="442.5" cy="760.5" r="2.7" fill="#e9bb45"/>
<text x="447.3" y="763.3" font-size="8" fill="#33498a" font-weight="bold" text-anchor="start" textLength="20.0" lengthAdjust="spacingAndGlyphs">일반폰</text>
<circle cx="481" cy="760.5" r="2.7" fill="#689fc2"/>
<text x="485.8" y="763.3" font-size="8" fill="#33498a" font-weight="bold" text-anchor="start" textLength="65.0" lengthAdjust="spacingAndGlyphs">웨어러블 스마트기기</text>
<text x="358.3" y="804.0" font-size="9.7" fill="#dc592e" font-weight="normal" text-anchor="middle" textLength="15.0" lengthAdjust="spacingAndGlyphs">93.4</text>
<text x="412.0" y="804.0" font-size="9.7" fill="#dc592e" font-weight="normal" text-anchor="middle" textLength="15.0" lengthAdjust="spacingAndGlyphs">93.4</text>
<text x="469.3" y="802.2" font-size="9.7" fill="#dc592e" font-weight="normal" text-anchor="middle" textLength="15.0" lengthAdjust="spacingAndGlyphs">94.8</text>
<text x="527.3" y="801.2" font-size="9.7" fill="#dc592e" font-weight="normal" text-anchor="middle" textLength="15.0" lengthAdjust="spacingAndGlyphs">95.3</text>
<text x="585.2" y="800.4" font-size="9.7" fill="#dc592e" font-weight="normal" text-anchor="middle" textLength="15.0" lengthAdjust="spacingAndGlyphs">96.0</text>
<text x="358.3" y="945.1" font-size="9.7" fill="#689fc2" font-weight="normal" text-anchor="middle" textLength="11.0" lengthAdjust="spacingAndGlyphs">4.7</text>
<text x="412.0" y="922.0" font-size="9.7" fill="#689fc2" font-weight="normal" text-anchor="middle" textLength="11.0" lengthAdjust="spacingAndGlyphs">8.9</text>
<text x="469.3" y="916.4" font-size="9.7" fill="#689fc2" font-weight="normal" text-anchor="middle" textLength="14.5" lengthAdjust="spacingAndGlyphs">12.0</text>
<text x="527.3" y="915.1" font-size="9.7" fill="#689fc2" font-weight="normal" text-anchor="middle" textLength="14.5" lengthAdjust="spacingAndGlyphs">12.9</text>
<text x="585.2" y="912.8" font-size="9.7" fill="#689fc2" font-weight="normal" text-anchor="middle" textLength="14.5" lengthAdjust="spacingAndGlyphs">14.3</text>
<text x="358.3" y="925.7" font-size="9.7" fill="#e9bb45" font-weight="normal" text-anchor="middle" textLength="11.0" lengthAdjust="spacingAndGlyphs">5.9</text>
<text x="412.0" y="944.2" font-size="9.7" fill="#e9bb45" font-weight="normal" text-anchor="middle" textLength="11.0" lengthAdjust="spacingAndGlyphs">5.5</text>
<text x="469.3" y="945.4" font-size="9.7" fill="#e9bb45" font-weight="normal" text-anchor="middle" textLength="11.0" lengthAdjust="spacingAndGlyphs">4.7</text>
<text x="527.3" y="945.9" font-size="9.7" fill="#e9bb45" font-weight="normal" text-anchor="middle" textLength="11.0" lengthAdjust="spacingAndGlyphs">4.4</text>
<text x="585.2" y="946.0" font-size="9.7" fill="#e9bb45" font-weight="normal" text-anchor="middle" textLength="11.0" lengthAdjust="spacingAndGlyphs">3.7</text>
<line x1="341.5" y1="950" x2="602.5" y2="950" stroke="#4d6ea3" stroke-width="1.1"/>
<text x="358.3" y="963.6" font-size="10.8" fill="#33498a" font-weight="bold" text-anchor="middle" textLength="23.0" lengthAdjust="spacingAndGlyphs">2021</text>
<text x="358.3" y="973.1" font-size="8.6" fill="#33498a" font-weight="bold" text-anchor="middle" textLength="34.5" lengthAdjust="spacingAndGlyphs">(N=6,834)</text>
<text x="412.0" y="963.6" font-size="10.8" fill="#33498a" font-weight="bold" text-anchor="middle" textLength="23.0" lengthAdjust="spacingAndGlyphs">2022</text>
<text x="412.0" y="973.1" font-size="8.6" fill="#33498a" font-weight="bold" text-anchor="middle" textLength="34.5" lengthAdjust="spacingAndGlyphs">(N=6,708)</text>
<text x="469.3" y="963.6" font-size="10.8" fill="#33498a" font-weight="bold" text-anchor="middle" textLength="23.0" lengthAdjust="spacingAndGlyphs">2023</text>
<text x="469.3" y="973.1" font-size="8.6" fill="#33498a" font-weight="bold" text-anchor="middle" textLength="34.5" lengthAdjust="spacingAndGlyphs">(N=7,055)</text>
<text x="527.3" y="963.6" font-size="10.8" fill="#33498a" font-weight="bold" text-anchor="middle" textLength="23.0" lengthAdjust="spacingAndGlyphs">2024</text>
<text x="527.3" y="973.1" font-size="8.6" fill="#33498a" font-weight="bold" text-anchor="middle" textLength="34.5" lengthAdjust="spacingAndGlyphs">(N=8,316)</text>
<text x="585.2" y="963.6" font-size="10.8" fill="#33498a" font-weight="bold" text-anchor="middle" textLength="23.0" lengthAdjust="spacingAndGlyphs">2025</text>
<text x="585.2" y="973.1" font-size="8.6" fill="#33498a" font-weight="bold" text-anchor="middle" textLength="34.5" lengthAdjust="spacingAndGlyphs">(N=8,320)</text>
<text x="22.6" y="991.8" font-size="8" fill="#1c1c1c" font-weight="bold" text-anchor="start" textLength="225.0" lengthAdjust="spacingAndGlyphs">•<tspan font-size="9.2">TV</tspan>수상기 보유율 : 가정용 <tspan font-size="9.2">TV</tspan> 수상기, 빌트인 <tspan font-size="9.2">TV</tspan>, <tspan font-size="9.2">TV</tspan>수신 겸용 모니터 포함</text>
<text x="22.6" y="1001.6" font-size="8" fill="#1c1c1c" font-weight="bold" text-anchor="start" textLength="239.0" lengthAdjust="spacingAndGlyphs">•가정용<tspan font-size="9.2">TV</tspan>수상기 보유율: 독립형 일반<tspan font-size="9.2">TV</tspan>(빌트인<tspan font-size="9.2">TV</tspan>, 모니터 겸용<tspan font-size="9.2">TV</tspan> 제외) 보유</text>
<text x="22.6" y="1011.4" font-size="8" fill="#1c1c1c" font-weight="bold" text-anchor="start" textLength="178.0" lengthAdjust="spacingAndGlyphs">•라디오 보유율 : 차량용 또는 가정용 라디오 중 하나라도 보유</text>
</svg>
</body>
</html>
